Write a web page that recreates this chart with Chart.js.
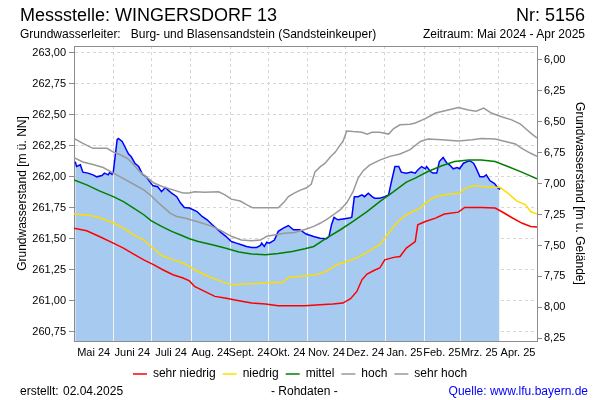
<!DOCTYPE html>
<html>
<head>
<meta charset="utf-8">
<script src="https://cdn.jsdelivr.net/npm/chart.js@4.4.1/dist/chart.umd.min.js"></script>
<style>
  body { margin: 0; background: #fff; }
  #wrap { position: relative; width: 600px; height: 400px; font-family: "Liberation Sans", Arial, sans-serif; color: #000; }
  #wrap canvas { position: absolute; left: 0; top: 0; }
  .t { position: absolute; white-space: pre; font-size: 12px; line-height: 12px; }
</style>
</head>
<body>
<div id="wrap">
  <canvas id="chart" width="600" height="400"></canvas>
  <div class="t" style="left:20px;top:6px;font-size:18px;line-height:18px">Messstelle: WINGERSDORF 13</div>
  <div class="t" style="right:15px;top:6px;font-size:18px;line-height:18px">Nr: 5156</div>
  <div class="t" style="left:20px;top:28px">Grundwasserleiter:   Burg- und Blasensandstein (Sandsteinkeuper)</div>
  <div class="t" style="right:15px;top:28px">Zeitraum: Mai 2024 - Apr 2025</div>
  <div class="t" style="left:20px;top:385px">erstellt:</div>
  <div class="t" style="left:63px;top:385px">02.04.2025</div>
  <div class="t" style="left:271px;top:385px">- Rohdaten -</div>
  <div class="t" style="right:12px;top:385px;color:#0000ff">Quelle: www.lfu.bayern.de</div>
</div>
<script>
/* days counted from 01.05.2024 */
const monthLabels = ["Mai 24", "Juni 24", "Juli 24", "Aug. 24", "Sept. 24", "Okt. 24", "Nov. 24", "Dez. 24", "Jan. 25", "Feb. 25", "Mrz. 25", "Apr. 25"];
const monthStarts = [0, 31, 61, 92, 123, 153, 184, 214, 245, 276, 304, 335, 365];

// measured level [day, m ü. NN]
const messwerte = [[1,262.123],[2,262.083],[5,262.097],[7,262.038],[11,262.03],[15,262.016],[18,262.0],[22,262.01],[24,262.03],[27,262.016],[28,262.035],[30,262.02],[31,262.04],
  [34,262.30],[35,262.31],[38,262.285],[40,262.245],[43,262.183],[45,262.164],[48,262.11],[51,262.083],[54,262.02],[57,262.0],[60,261.957],[62,261.93],[66,261.92],[69,261.88],
  [72,261.914],[74,261.895],[77,261.868],[81,261.84],[84,261.788],[87,261.753],[91,261.748],[97,261.72],[101,261.68],[105,261.653],[109,261.613],[112,261.586],[116,261.55],
  [120,261.518],[124,261.478],[128,261.465],[132,261.452],[136,261.438],[140,261.43],[144,261.43],[147,261.446],[148,261.465],[150,261.438],[152,261.473],[154,261.465],
  [158,261.49],[161,261.56],[165,261.586],[169,261.607],[173,261.573],[178,261.573],[183,261.538],[189,261.518],[194,261.505],[199,261.50],[201,261.518],[203,261.613],
  [205,261.672],[208,261.653],[212,261.66],[217,261.667],[219,261.675],[221,261.84],[224,261.84],[227,261.855],[229,261.84],[232,261.868],[235,261.84],[237,261.828],
  [241,261.828],[245,261.84],[248,261.855],[250,261.95],[253,262.083],[256,262.083],[258,262.038],[262,262.03],[266,262.038],[269,262.03],[271,262.056],[274,262.083],
  [277,262.065],[278,262.083],[281,262.043],[283,262.03],[286,262.03],[288,262.123],[291,262.156],[294,262.11],[296,262.097],[299,262.065],[302,262.075],[304,262.065],
  [307,262.11],[310,262.123],[312,262.13],[315,262.11],[317,262.07],[320,262.0],[323,262.0],[325,262.016],[328,261.968],[331,261.95],[332,261.94],[334,261.91],[336,261.9]];

const sehrNiedrig = [[0,261.586],[10,261.565],[20,261.518],[31,261.465],[39,261.425],[47,261.377],[55,261.33],[63,261.29],[70,261.25],[78,261.21],[86,261.183],[91,261.16],
  [95,261.115],[103,261.075],[111,261.035],[119,261.022],[130,261.0],[140,260.981],[151,260.973],[161,260.96],[172,260.96],[182,260.96],[194,260.968],[204,260.973],
  [212,260.981],[218,261.016],[223,261.075],[227,261.169],[231,261.215],[236,261.242],[241,261.264],[245,261.33],[252,261.35],[257,261.357],[262,261.425],[269,261.478],
  [271,261.613],[277,261.64],[285,261.667],[292,261.70],[303,261.715],[308,261.753],[321,261.753],[332,261.748],[337,261.72],[345,261.672],[353,261.627],[360,261.60],[365,261.595]];

const niedrig = [[0,261.70],[13,261.688],[20,261.672],[31,261.627],[39,261.586],[47,261.532],[55,261.49],[61,261.438],[69,261.365],[78,261.33],[86,261.304],[91,261.277],
  [95,261.25],[106,261.196],[116,261.156],[124,261.129],[135,261.135],[145,261.14],[156,261.15],[164,261.145],[169,261.188],[177,261.196],[191,261.21],[199,261.237],
  [207,261.29],[215,261.317],[224,261.35],[232,261.398],[241,261.452],[247,261.532],[252,261.60],[257,261.653],[262,261.694],[267,261.72],[273,261.748],[277,261.788],
  [285,261.84],[295,261.86],[304,261.868],[308,261.903],[315,261.93],[324,261.92],[336,261.914],[342,261.868],[349,261.806],[356,261.774],[360,261.72],[365,261.70]];

const mittel = [[0,261.975],[10,261.935],[20,261.887],[31,261.84],[39,261.80],[47,261.748],[55,261.694],[61,261.645],[69,261.60],[77,261.56],[85,261.527],[91,261.50],
  [98,261.478],[109,261.452],[119,261.425],[130,261.393],[140,261.377],[151,261.371],[161,261.382],[172,261.398],[182,261.42],[189,261.438],[199,261.505],[210,261.573],
  [220,261.64],[231,261.72],[241,261.80],[252,261.88],[262,261.957],[269,261.99],[279,262.043],[290,262.09],[300,262.123],[311,262.135],[321,262.135],[332,262.123],
  [342,262.083],[353,262.038],[365,261.984]];

const hoch = [[0,262.155],[7,262.12],[15,262.10],[23,262.075],[31,262.03],[39,261.985],[47,261.94],[55,261.895],[60,261.855],[65,261.805],[70,261.76],[76,261.705],
  [81,261.68],[88,261.665],[98,261.635],[109,261.60],[116,261.565],[124,261.52],[132,261.49],[140,261.485],[147,261.49],[152,261.52],[158,261.53],[166,261.545],
  [174,261.55],[182,261.575],[189,261.60],[194,261.625],[199,261.655],[204,261.69],[210,261.735],[215,261.79],[220,261.88],[224,261.99],[228,262.05],[233,262.095],
  [241,262.135],[249,262.165],[257,262.185],[265,262.22],[273,262.285],[279,262.305],[290,262.30],[303,262.29],[314,262.30],[321,262.31],[332,262.305],[340,262.285],
  [348,262.265],[353,262.23],[360,262.19],[365,262.165]];

const sehrHoch = [[0,262.31],[7,262.27],[15,262.23],[26,262.23],[31,262.20],[36,262.18],[42,262.15],[47,262.10],[52,262.04],[57,262.00],[63,261.95],[70,261.92],
  [78,261.895],[86,261.87],[91,261.87],[95,261.88],[103,261.875],[114,261.88],[119,261.855],[124,261.82],[131,261.805],[136,261.775],[141,261.75],[161,261.75],
  [166,261.80],[169,261.84],[174,261.87],[179,261.895],[183,261.91],[187,261.94],[190,262.04],[194,262.08],[198,262.11],[202,262.16],[206,262.20],[210,262.26],
  [212,262.285],[215,262.37],[220,262.365],[227,262.36],[231,262.345],[235,262.36],[241,262.36],[248,262.345],[252,262.39],[257,262.42],[265,262.425],[269,262.435],
  [277,262.47],[285,262.515],[295,262.54],[303,262.56],[311,262.54],[317,262.53],[323,262.555],[329,262.515],[337,262.485],[345,262.46],[352,262.425],[357,262.38],
  [361,262.345],[365,262.315]];

const GELAENDE = 268.946;          // ground level, right axis = GELAENDE - level
const Y_MIN = 260.675, Y_MAX = 263.056;

Chart.defaults.font.family = "'Liberation Sans', Arial, sans-serif";
Chart.defaults.color = "#000";

function pts(arr) { return arr.map(function (p) { return { x: p[0], y: p[1] }; }); }

function line(label, arr, color) {
  return { label: label, data: pts(arr), borderColor: color, backgroundColor: color, borderWidth: 1.5,
    pointRadius: 0, fill: false, tension: 0, order: 0 };
}

function levelAt(day) {
  for (let i = 1; i < messwerte.length; i++) {
    const a = messwerte[i - 1], b = messwerte[i];
    if (day >= a[0] && day <= b[0]) return a[1] + (b[1] - a[1]) * (day - a[0]) / (b[0] - a[0]);
  }
  return null;
}

// white month separators inside the filled area (drawn before the reference lines)
const monthSeparators = {
  id: "monthSeparators",
  afterDatasetDraw: function (chart, args) {
    if (args.index !== 5) return;
    const ctx = chart.ctx, area = chart.chartArea, x = chart.scales.x, y = chart.scales.y;
    ctx.save();
    ctx.strokeStyle = "#f2f2f2"; ctx.lineWidth = 1;
    monthStarts.forEach(function (d) {
      const v = levelAt(d); if (v === null) return;
      const px = Math.round(x.getPixelForValue(d)) + 0.5;
      ctx.beginPath(); ctx.moveTo(px, area.bottom); ctx.lineTo(px, y.getPixelForValue(v) + 1.5); ctx.stroke();
    });
    ctx.restore();
  }
};

const midMonths = monthStarts.slice(0, -1).map(function (d, i) { return (d + monthStarts[i + 1]) / 2; });
const fmt = function (v) { return v.toFixed(2).replace(".", ","); };

new Chart(document.getElementById("chart"), {
  type: "line",
  data: { datasets: [
    line("sehr niedrig", sehrNiedrig, "#ff0000"),
    line("niedrig", niedrig, "#ffdd00"),
    line("mittel", mittel, "#008000"),
    line("hoch", hoch, "#999999"),
    line("sehr hoch", sehrHoch, "#999999"),
    { label: "Messwerte", data: pts(messwerte), borderColor: "#0000ff", borderWidth: 1.5, backgroundColor: "#a6caf0",
      fill: "start", pointRadius: 0, tension: 0, order: 1 }
  ] },
  options: {
    responsive: false, animation: false, events: [],
    layout: { padding: { top: 46, left: 0, right: 0, bottom: 10 } },
    plugins: {
      tooltip: { enabled: false },
      legend: { position: "bottom",
        labels: { usePointStyle: true, pointStyle: "line", pointStyleWidth: 14, padding: 7, color: "#000", font: { size: 12 },
          filter: function (item) { return item.datasetIndex < 5; } } }
    },
    scales: {
      x: { type: "linear", position: "bottom", min: 0, max: 365, weight: 0,
        afterBuildTicks: function (s) { s.ticks = monthStarts.map(function (v) { return { value: v }; }); },
        afterFit: function (s) { s.height = 0; },
        ticks: { display: false }, grid: { color: "#d6d6d6", drawTicks: false }, border: { display: true, color: "#8c8c8c", dash: [3, 3] } },
      xl: { type: "linear", position: "bottom", min: 0, max: 365, weight: 1,
        afterBuildTicks: function (s) { s.ticks = midMonths.map(function (v) { return { value: v }; }); },
        afterFit: function (s) { s.height = 20; },
        ticks: { autoSkip: false, maxRotation: 0, padding: 5, font: { size: 11 }, callback: function (v, i) { return monthLabels[i]; } },
        grid: { display: false, drawTicks: false }, border: { display: false } },
      xt: { type: "linear", position: "top", min: 0, max: 365,
        afterFit: function (s) { s.height = 0; },
        ticks: { display: false }, grid: { display: false }, border: { display: true, color: "#8c8c8c" } },
      y: { type: "linear", position: "left", min: Y_MIN, max: Y_MAX,
        afterFit: function (s) { s.width = 74; },
        ticks: { stepSize: 0.25, includeBounds: false, padding: 3, font: { size: 11 }, callback: fmt },
        grid: { color: "#d6d6d6", tickColor: "#8c8c8c", tickLength: 5 },
        border: { color: "#8c8c8c", dash: [3, 3] },
        title: { display: true, text: "Grundwasserstand [m ü. NN]", font: { size: 12 }, padding: { top: 15, bottom: 0 } } },
      y2: { type: "linear", position: "right", reverse: true, min: GELAENDE - Y_MAX, max: GELAENDE - Y_MIN,
        afterFit: function (s) { s.width = 63; },
        ticks: { stepSize: 0.25, includeBounds: false, padding: 2, font: { size: 11 }, callback: fmt },
        grid: { drawOnChartArea: false, tickColor: "#8c8c8c", tickLength: 5 },
        border: { color: "#8c8c8c" },
        title: { display: true, text: "Grundwasserstand [m u. Gelände]", font: { size: 12 }, padding: { top: 13, bottom: 0 } } }
    }
  },
  plugins: [monthSeparators]
});
</script>
</body>
</html>
